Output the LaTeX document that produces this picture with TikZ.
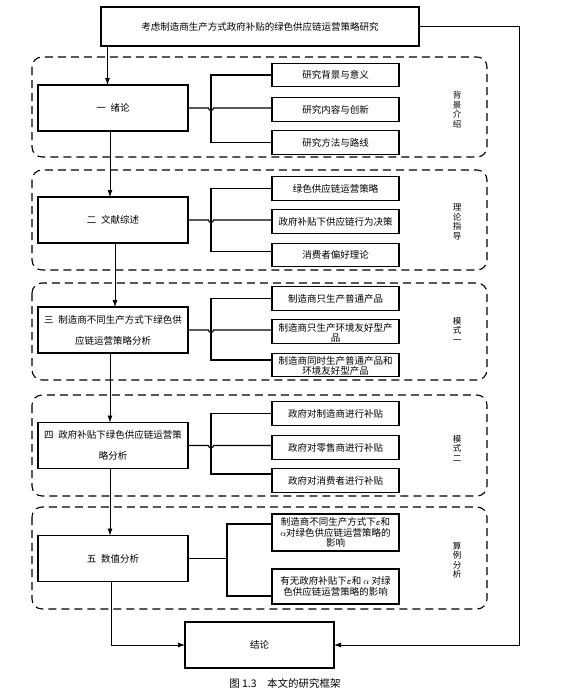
\documentclass[tikz,border=0pt]{standalone}
\usepackage{fontspec}
\usepackage{amsmath}
\newfontfamily\cjk{Noto Sans CJK SC}
\usetikzlibrary{arrows.meta,calc}
\begin{document}
\begin{tikzpicture}[x=1pt,y=-1pt,
  every node/.style={inner sep=0pt,outer sep=0pt},
  box/.style={draw,line width=1.1pt,align=center,font=\cjk\fontsize{9.5}{11}\selectfont},
  mainbox/.style={box,minimum width=150pt,minimum height=46pt},
  subbox/.style={box,minimum width=127pt,minimum height=23.5pt},
  grp/.style={draw,line width=1.1pt,dash pattern=on 8pt off 5pt,rounded corners=10pt},
  glabel/.style={align=center,font=\cjk\fontsize{8.5}{9.5}\selectfont},
  conn/.style={line width=1.1pt},
  arr/.style={line width=0.8pt,-{Latex[length=7pt,width=5pt]}}
]
\useasboundingbox (0,0) rectangle (568,697);

% dashed groups
\draw[grp] (32,57) rectangle (487,157);
\draw[grp] (32,170) rectangle (487,270);
\draw[grp] (32,283) rectangle (487,380);
\draw[grp] (32,395) rectangle (487,496);
\draw[grp] (32,507) rectangle (487,609);

\node[glabel] (l1) at (457,110) {背\\景\\介\\绍};
\node[glabel] (l2) at (457,222) {理\\论\\指\\导};
\node[glabel] (l3) at (457,330) {模\\式\\一};
\node[glabel] (l4) at (457,448) {模\\式\\二};
\node[glabel] (l5) at (457,560) {算\\例\\分\\析};

% title
\node[box,minimum width=318pt,minimum height=39pt] (title) at (260,26.5) {考虑制造商生产方式政府补贴的绿色供应链运营策略研究};

% main boxes
\node[mainbox] (b1) at (113,108) {一\enspace 绪论};
\node[mainbox] (b2) at (113,220) {二\enspace 文献综述};
\node[mainbox,font=\cjk\fontsize{9.5}{21}\selectfont] (b3) at (113,330) {三\enspace 制造商不同生产方式下绿色供\\应链运营策略分析};
\node[mainbox,font=\cjk\fontsize{9.5}{21}\selectfont] (b4) at (113,445.5) {四\enspace 政府补贴下绿色供应链运营策\\略分析};
\node[mainbox] (b5) at (113,558.5) {五\enspace 数值分析};
\node[box,minimum width=149pt,minimum height=46pt] (conc) at (259.5,645) {结论};

% sub boxes
\node[subbox] (r11) at (335.5,75) {研究背景与意义};
\node[subbox] (r12) at (335.5,109.5) {研究内容与创新};
\node[subbox] (r13) at (335.5,142.5) {研究方法与路线};

\node[subbox] (r21) at (335.5,188.5) {绿色供应链运营策略};
\node[subbox] (r22) at (335.5,221.5) {政府补贴下供应链行为决策};
\node[subbox] (r23) at (335.5,255) {消费者偏好理论};

\node[subbox] (r31) at (335.5,298.5) {制造商只生产普通产品};
\node[subbox] (r32) at (335.5,331.5) {};
\node[font=\cjk\fontsize{9.5}{10.5}\selectfont,align=center] (t32) at (335.5,333) {制造商只生产环境友好型产\\品};
\node[subbox] (r33) at (335.5,365) {};
\node[font=\cjk\fontsize{9.5}{10.5}\selectfont,align=center] (t33) at (335.5,366) {制造商同时生产普通产品和\\环境友好型产品};

\node[subbox] (r41) at (335.5,413.5) {政府对制造商进行补贴};
\node[subbox] (r42) at (335.5,447.5) {政府对零售商进行补贴};
\node[subbox] (r43) at (335.5,480.5) {政府对消费者进行补贴};

\node[subbox,minimum height=37pt,font=\cjk\fontsize{9.5}{10.5}\selectfont] (r51) at (335.5,532.5) {制造商不同生产方式下$\boldsymbol{\varepsilon}$和\\$\alpha$对绿色供应链运营策略的\\影响};
\node[subbox,minimum height=35pt,font=\cjk\fontsize{9.5}{11}\selectfont] (r52) at (335.5,586.5) {有无政府补贴下$\boldsymbol{\varepsilon}$和 $\alpha$ 对绿\\色供应链运营策略的影响};

% brackets with line jumps
\draw[conn] (b1.east) -- ($(b1.east)+(20.5,0)$) arc[start angle=180,end angle=0,radius=2.5] -- (r12.west |- b1.east);
\draw[conn] (r11.west) -- ++(-61,0) |- (r13.west);

\draw[conn] (b2.east) -- ($(b2.east)+(20.5,0)$) arc[start angle=180,end angle=0,radius=2.5] -- (r22.west |- b2.east);
\draw[conn] (r21.west) -- ++(-61,0) |- ([yshift=3.5pt]r23.west);

\draw[conn] (b3.east) -- ($(b3.east)+(20.5,0)$) arc[start angle=180,end angle=0,radius=2.5] -- (r32.west |- b3.east);
\draw[conn] (r31.west) -- ++(-61,0) |- ([yshift=5pt]r33.west);

\draw[conn] (b4.east) -- ($(b4.east)+(20.5,0)$) arc[start angle=180,end angle=0,radius=2.5] -- (r42.west |- b4.east);
\draw[conn] (r41.west) -- ++(-61,0) |- ([yshift=6.5pt]r43.west);

\draw[conn] (b5.east) -- ++(39,0);
\draw[conn] ([yshift=8.5pt]r51.west) -- ++(-45,0) |- ([yshift=-9.5pt]r52.west);

% main flow
\draw[arr] ([xshift=-5.5pt]title.south -| b1.north) -- ([xshift=-5.5pt]b1.north);
\draw[arr] ([xshift=-3pt]b1.south) -- ([xshift=-3pt]b2.north);
\draw[arr] ([xshift=2pt]b2.south) -- ([xshift=2pt]b3.north);
\draw[arr] ([xshift=-3pt]b3.south) -- ([xshift=-3pt]b4.north);
\draw[arr] ([xshift=-3pt]b4.south) -- ([xshift=-3pt]b5.north);
\draw[arr] ([xshift=-2pt]b5.south) |- (conc.west);
\draw[arr] (title.east) -- ++(100,0) |- (conc.east);

% caption
\node[font=\cjk\fontsize{10.5}{12}\selectfont] (cap) at (285,683) {图 1.3\quad 本文的研究框架};
\end{tikzpicture}
\end{document}
